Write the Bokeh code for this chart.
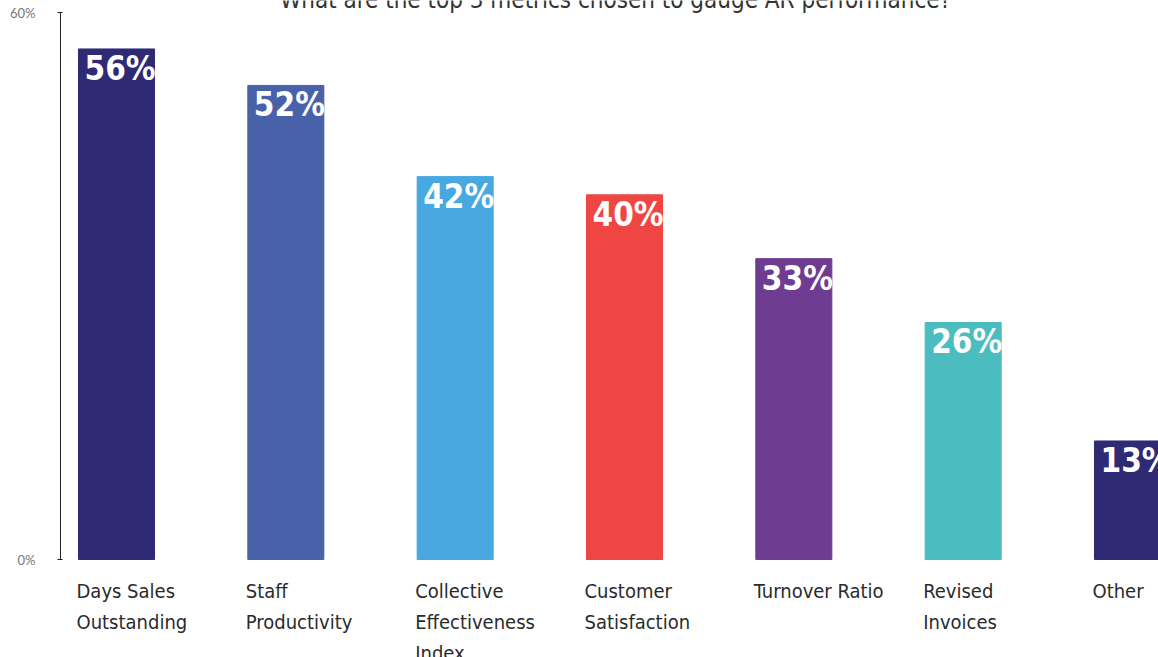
from bokeh.plotting import figure
from bokeh.models import Range1d, FixedTicker, ColumnDataSource
from bokeh.core.properties import value
from bokeh.embed import file_html
from bokeh.resources import INLINE

title_text = "What are the top 3 metrics chosen to gauge AR performance?"
categories = ["Days Sales\nOutstanding", "Staff\nProductivity", "Collective\nEffectiveness\nIndex",
              "Customer\nSatisfaction", "Turnover Ratio", "Revised\nInvoices", "Other"]
values = [56, 52, 42, 40, 33, 26, 13]
colors = ["#2f2a74", "#4861a8", "#48a8df", "#ef4543", "#6e3d91", "#4bbcbf", "#2f2a74"]
y_ticks = [0, 60]

W, H = 1158, 657
px_per_unit_y = 547 / 60.0
px_per_unit_x = 169.33
FONT = "'DejaVu Sans Condensed', 'Liberation Sans Narrow', Roboto"

xpos = list(range(len(categories)))
src = ColumnDataSource(dict(
    x=xpos, top=values, color=colors, cat=categories,
    lab=[f"{v}%" for v in values], zero=[0] * len(values)))

p = figure(width=W, height=H, output_backend="svg", toolbar_location=None,
           x_range=Range1d(-(116 - 60) / px_per_unit_x, 6 + (1158 - 1132) / px_per_unit_x),
           y_range=Range1d(-(H - 559) / px_per_unit_y, 60 + 12 / px_per_unit_y),
           min_border_left=60, min_border_right=0, min_border_top=0, min_border_bottom=0,
           x_axis_location=None)
p.outline_line_color = None
p.grid.visible = False
p.background_fill_color = "white"

p.vbar(x="x", top="top", bottom=0, width=0.449, color="color", source=src)

p.text(x="x", y="top", text="lab", source=src, x_offset=-32, y_offset=0,
       text_baseline="top", text_align="left", text_color="white",
       text_font=value(FONT), text_font_style="bold", text_font_size="33px")

p.text(x="x", y="zero", text="cat", source=src, x_offset=-40, y_offset=19,
       text_baseline="top", text_align="left", text_color="#2b2b2b",
       text_font=value(FONT), text_font_size="20px", text_line_height=1.3)

p.text(x=[3], y=[60 + 12 / px_per_unit_y], text=[title_text], x_offset=-9, y_offset=-1,
       text_baseline="alphabetic", text_align="center", text_color="#333333",
       text_font=value(FONT), text_font_size="24px")

ax = p.yaxis[0]
ax.bounds = (0, 60)
ax.ticker = FixedTicker(ticks=y_ticks)
ax.minor_tick_line_color = None
ax.major_tick_in = 2
ax.major_tick_out = 3
ax.axis_line_color = "#222222"
ax.major_tick_line_color = "#222222"
ax.major_label_overrides = {0: "0%", 60: "60%"}
ax.major_label_text_font = "Lato"
ax.major_label_text_font_size = "13px"
ax.major_label_text_color = "#777777"
ax.major_label_standoff = 22

open("out.html", "w").write(file_html(p, INLINE))
